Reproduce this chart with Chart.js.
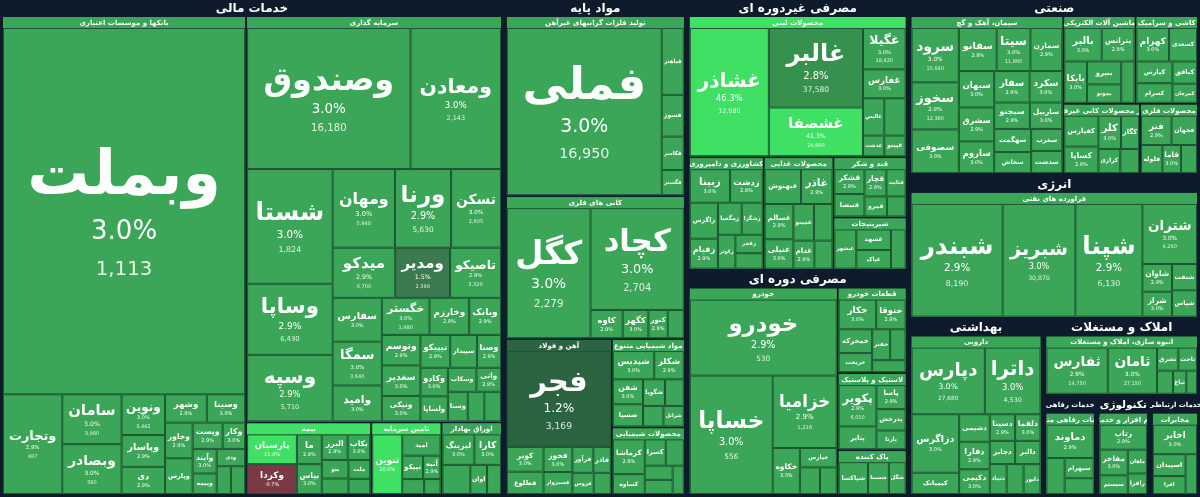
<!DOCTYPE html>
<html>
<head>
<meta charset="utf-8">
<script src="https://cdn.jsdelivr.net/npm/chart.js@4"></script>
<style>
  html, body { margin: 0; padding: 0; background: #0e1b2c; }
  #wrap { width: 1200px; height: 497px; }
</style>
</head>
<body>
<div id="wrap"><canvas id="map"></canvas></div>
<script>
// Sectors and industry groups
const sectorNames = ['خدمات مالی', 'مواد پایه', 'مصرفی غیردوره ای', 'مصرفی دوره ای', 'صنعتی', 'انرژی',
  'بهداشتی', 'املاک و مستغلات', 'خدمات رفاهی', 'خدمات ارتباطی', 'تکنولوژی'];

const groupNames = ['بانکها و موسسات اعتباری', 'سرمایه گذاری', 'بیمه', 'تامین سرمایه', 'اوراق بهادار',
  'تولید فلزات گرانبهای غیرآهن', 'کانی های فلزی', 'آهن و فولاد', 'مواد شیمیایی متنوع', 'محصولات شیمیایی',
  'محصولات لبنی', 'کشاورزی و دامپروری', 'محصولات غذایی', 'شیرینیجات', 'قند و شکر',
  'خودرو', 'لاستیک و پلاستیک', 'قطعات خودرو', 'پاک کننده',
  'سیمان، آهک و گچ', 'ماشین آلات الکتریکی', 'کاشی و سرامیک', 'محصولات فلزی', 'سایر محصولات کانی غیرفلزی',
  'فراورده های نفتی', 'دارویی', 'انبوه سازی، املاک و مستغلات', 'خدمات رفاهی متنوع', 'مخابرات', 'نرم افزار و خدمات'];
const groupSector = [0, 0, 0, 0, 0, 1, 1, 1, 1, 1, 2, 2, 2, 2, 2, 3, 3, 3, 3, 4, 4, 4, 4, 4, 5, 6, 7, 8, 9, 10];

// Stocks, one row per group
const stockNames = [
  ['وبملت', 'وتجارت', 'سامان', 'وبصادر', 'ونوین', 'وپاسار', 'دی', 'وشهر', 'وسینا', 'وخاور', 'وپارس', 'وپست', 'وکار', 'وآیند', 'وبیمه', 'ودی', 'وحکمت', 'وملل'],
  ['وصندوق', 'ومعادن', 'شستا', 'وساپا', 'وسپه', 'ومهان', 'ورنا', 'تسکن', 'میدکو', 'ومدیر', 'تاصیکو', 'سفارس', 'سمگا', 'وامید', 'خگستر', 'وخارزم', 'وبانک', 'وتوسم', 'سغدیر', 'ونیکی', 'تیپیکو', 'سپیدار', 'وصنا', 'وکادو', 'ولساپا', 'وسکاب', 'واتی', 'وسنا', 'ثنوسا', 'وآفری'],
  ['پارسیان', 'وکردا', 'ما', 'بپاس', 'البرز', 'بکاب', 'بنو', 'وتعاون', 'ملت', 'بپردیس'],
  ['تنوین', 'امید', 'تپیکو', 'آتیه', 'نوین', 'تسه'],
  ['لیزینگ', 'کارا', 'فرابورس', 'اوان', 'ولتجار'],
  ['فملی', 'فباهنر', 'فسوژ', 'فکاسر', 'فگستر'],
  ['کگل', 'کچاد', 'کاوه', 'کگهر', 'کنور', 'کشرق'],
  ['فجر', 'کویر', 'فطلوع', 'فخوز', 'فسبزوار', 'فرآور', 'فاذر', 'فروس', 'فنوال'],
  ['شپدیس', 'شکلر', 'شفن', 'شسپا', 'شگویا', 'شبصیر', 'شصدف', 'شرانل'],
  ['کرماشا', 'کساوه', 'کسرا', 'کفرآور', 'کلوند', 'کپشیر', 'کهمدا'],
  ['غشاذر', 'غالبر', 'غشصفا', 'غگیلا', 'غفارس', 'غالیس', 'غگلستا', 'غدشت', 'غپینو'],
  ['زبینا', 'زدشت', 'زاگرس', 'زقیام', 'زمگسا', 'زشگزا', 'زکوثر', 'زفجر', 'زملارد'],
  ['غبهنوش', 'غاذر', 'غسالم', 'غنیلی', 'غمینو', 'غنوش', 'غدام', 'غگرجی'],
  ['غبشهر', 'غشهد', 'غپاک', 'غشان'],
  ['قشکر', 'قنیشا', 'قچار', 'قثابت', 'قمرو', 'قزوین'],
  ['خودرو', 'خساپا', 'خزامیا', 'خکاوه', 'خپارس', 'خموتور', 'خکرمان'],
  ['پکویر', 'پتایر', 'پاسا', 'پدرخش', 'پارتا'],
  ['خکار', 'ختوقا', 'خمحرکه', 'خریخت', 'خفنر', 'خاذین', 'خچرخش'],
  ['شپاکسا', 'شسینا', 'شگل'],
  ['سرود', 'سخوز', 'سصوفی', 'سفانو', 'سیتا', 'سمازن', 'سبهان', 'سشرق', 'ساروم', 'سفار', 'سکرد', 'سبجنو', 'ساربیل', 'سهگمت', 'سخاش', 'سغرب', 'سدشت'],
  ['بالبر', 'بترانس', 'بایکا', 'بنیرو', 'بموتو', 'بپیوند'],
  ['کهرام', 'کسعدی', 'کپارس', 'کسرام', 'کبافق', 'کمرجان'],
  ['فنر', 'فجهان', 'فلوله', 'فاما', 'فسازان'],
  ['کفپارس', 'کساپا', 'کلر', 'کگاز', 'کرازی', 'کیسون'],
  ['شبندر', 'شبریز', 'شپنا', 'شتران', 'شاوان', 'شراز', 'شنفت', 'شپاس'],
  ['دپارس', 'داترا', 'دزاگرس', 'کیمیاتک', 'دشیمی', 'دفارا', 'دکیمی', 'دسینا', 'دلقما', 'دجابر', 'دالبر', 'دتماد', 'دسبحا', 'دابور'],
  ['ثفارس', 'ثامان', 'ثشرق', 'ثاخت', 'ثعمرا', 'ثباغ', 'ثنظام'],
  ['دماوند', 'بهپرور', 'سبهرام', 'گردش'],
  ['اخابر', 'اسپیدان', 'افرا', 'همراه'],
  ['رتاپ', 'مفاخر', 'سیستم', 'ماهان', 'رافزا']
];
const stockCaps = [
  [900, 60, 30, 30, 18, 14, 12, 12, 11, 10, 10, 8, 6, 6, 5, 5, 4, 4],
  [235, 130, 100, 62, 58, 50, 45, 40, 32, 28, 26, 22, 22, 18, 18, 15, 12, 12, 12, 10, 10, 9, 8, 8, 7, 7, 6, 6, 5, 5],
  [18, 18, 9, 9, 8, 7, 6, 5, 5, 4],
  [22, 10, 6, 5, 4, 3],
  [12, 10, 10, 6, 5],
  [280, 16, 10, 8, 6],
  [120, 105, 10, 8, 6, 5],
  [110, 10, 9, 8, 7, 6, 5, 5, 4],
  [14, 10, 9, 8, 7, 6, 5, 5],
  [14, 8, 7, 6, 5, 5, 4],
  [115, 85, 52, 20, 14, 9, 9, 5, 5],
  [16, 13, 12, 10, 9, 8, 7, 6, 5],
  [15, 13, 12, 10, 9, 8, 7, 6],
  [12, 10, 9, 8],
  [10, 9, 8, 7, 6, 5],
  [125, 110, 52, 14, 8, 6, 5],
  [20, 11, 9, 8, 7],
  [14, 11, 10, 8, 7, 6, 5],
  [14, 10, 8],
  [30, 26, 24, 19, 17, 16, 15, 14, 13, 13, 12, 11, 10, 10, 9, 8, 8],
  [16, 14, 12, 10, 8, 7],
  [14, 12, 10, 9, 7, 6],
  [12, 10, 8, 7, 6],
  [14, 12, 10, 8, 7, 6],
  [125, 100, 92, 40, 10, 9, 8, 8],
  [58, 44, 33, 12, 10, 10, 9, 8, 8, 7, 7, 6, 6, 6],
  [46, 37, 8, 7, 6, 5, 4],
  [24, 10, 9, 7],
  [20, 11, 9, 7],
  [18, 11, 8, 7, 6]
];
const stockChanges = [
  [3.0, 2.9, 3.0, 3.0, 3.0, 2.9, 2.9, 2.9, 3.0, 2.9, 2.9, 2.9, 3.0, 3.0, 2.9, 3.0, 2.9, 3.0],
  [3.0, 3.0, 3.0, 2.9, 2.9, 3.0, 2.9, 3.0, 2.9, 1.5, 2.9, 3.0, 3.0, 3.0, 3.0, 2.9, 2.9, 2.9, 3.0, 3.0, 2.9, 3.0, 2.9, 3.0, 2.9, 3.0, 2.9, 3.0, 2.9, 3.0],
  [11.4, -0.7, 2.9, 3.0, 2.9, 3.0, 2.9, 3.0, 2.9, 3.0],
  [10.0, 3.0, 3.0, 2.9, 3.0, 2.9],
  [3.0, 3.0, 2.9, 3.0, 2.9],
  [3.0, 2.9, 3.0, 2.9, 3.0],
  [3.0, 3.0, 2.9, 3.0, 2.9, 3.0],
  [1.2, 3.0, 2.9, 3.0, 2.9, 3.0, 2.9, 3.0, 2.9],
  [3.0, 2.9, 3.0, 2.9, 3.0, 2.9, 3.0, 2.9],
  [2.9, 3.0, 2.9, 3.0, 2.9, 3.0, 2.9],
  [46.3, 2.8, 41.3, 3.0, 3.0, 2.9, 2.9, 3.0, 2.9],
  [3.0, 2.9, 3.0, 2.9, 3.0, 2.9, 3.0, 2.9, 3.0],
  [3.0, 2.9, 2.9, 3.0, 2.9, 3.0, 2.9, 3.0],
  [3.0, 2.9, 3.0, 2.9],
  [2.9, 3.0, 2.9, 3.0, 2.9, 3.0],
  [2.9, 3.0, 2.9, 3.0, 2.9, 3.0, 2.9],
  [2.9, 3.0, 2.9, 3.0, 2.9],
  [3.0, 2.9, 3.0, 2.9, 3.0, 2.9, 3.0],
  [3.0, 2.9, 3.0],
  [3.0, 2.9, 3.0, 2.9, 3.0, 2.9, 3.0, 2.9, 3.0, 2.9, 3.0, 2.9, 3.0, 2.9, 3.0, 2.9, 3.0],
  [3.0, 2.9, 3.0, 2.9, 3.0, 2.9],
  [3.0, 2.9, 3.0, 2.9, 3.0, 2.9],
  [2.9, 3.0, 2.9, 3.0, 2.9],
  [3.0, 2.9, 3.0, 2.9, 3.0, 2.9],
  [2.9, 3.0, 2.9, 3.0, 2.9, 3.0, 2.9, 3.0],
  [3.0, 3.0, 3.0, 2.9, 3.0, 2.9, 3.0, 2.9, 3.0, 2.9, 3.0, 2.9, 3.0, 2.9],
  [2.9, 3.0, 2.9, 3.0, 2.9, 3.0, 2.9],
  [2.9, 3.0, 2.9, 3.0],
  [3.0, 2.9, 3.0, 2.9],
  [2.9, 3.0, 2.9, 3.0, 2.9]
];
const stockPrices = [
  [1113, 487, 3980, 580, 3442, 2950, 1830, 1730, 6190, 1720, 2120, 4350, 1560, 3440, 2210, 1990, 1870, 2510],
  [16180, 2143, 1824, 6430, 5710, 5940, 5630, 2605, 6700, 2399, 3320, 2150, 3640, 4120, 1980, 2210, 1760, 3050, 2870, 4440, 2630, 1540, 1890, 2760, 3310, 1450, 2070, 1620, 3380, 2990],
  [3220, 5847, 1650, 2130, 1870, 2460, 1510, 2280, 1940, 1720],
  [3690, 2410, 1980, 2550, 1870, 2260],
  [2150, 1980, 7530, 2380, 1660],
  [16950, 5210, 7440, 3180, 2690],
  [2279, 2704, 4390, 6120, 3570, 2480],
  [3169, 1450, 5260, 3930, 2780, 4120, 2670, 3340, 2190],
  [5830, 7420, 3360, 4710, 2940, 3590, 2230, 4880],
  [6130, 3270, 4190, 2580, 3860, 2310, 1970],
  [12980, 37580, 24860, 18420, 9870, 7660, 8810, 5430, 6290],
  [12450, 9380, 11270, 7640, 8930, 6180, 5520, 7310, 4870],
  [8760, 6550, 9120, 5480, 7330, 4260, 6190, 3870],
  [5240, 6930, 4410, 3780],
  [7120, 5840, 6630, 4970, 5210, 3980],
  [530, 556, 1216, 3880, 2270, 1950, 2640],
  [6010, 4820, 3570, 2930, 5160],
  [2290, 3140, 1870, 2560, 3320, 1940, 2780],
  [8140, 5230, 4660],
  [15640, 12380, 18290, 9740, 11860, 13420, 10550, 8890, 9630, 12170, 7420, 8350, 6980, 9210, 5780, 7640, 6330],
  [4580, 6210, 3860, 2940, 3370, 2650],
  [3410, 2870, 4150, 2260, 2980, 1960],
  [5320, 3870, 4490, 2760, 3140],
  [6520, 4730, 3980, 5160, 2870, 3340],
  [8190, 30870, 6130, 4260, 7840, 5310, 6640, 4170],
  [27680, 4530, 18940, 9620, 12370, 8460, 7210, 10880, 6750, 9130, 7780, 5920, 8340, 6470],
  [14750, 27150, 3320, 2870, 2490, 3760, 2150],
  [9830, 6470, 5210, 4380],
  [2360, 4870, 3650, 5120],
  [12340, 8650, 6270, 5480, 4930]
];

const W = 1200, H = 497;
const BG = '#0e1b2c';
// which page column each sector is laid out in
const sectorColumn = [0, 1, 2, 2, 3, 3, 3, 3, 3, 3, 3];

function colorFor(c) {
  if (c >= 10) return '#3fe064';
  if (c < 0) return '#7a3944';
  if (c < 1.3) return '#2c6441';
  if (c < 2) return '#3a7a4e';
  if (c < 2.85) return '#36914f';
  return '#3ba657';
}

// squarified treemap, returns rects in the order of vals
function squarify(vals, x, y, w, h) {
  const order = vals.map((v, i) => i).sort((a, b) => vals[b] - vals[a]);
  const total = vals.reduce((s, v) => s + v, 0);
  const scale = (w * h) / total;
  const areas = order.map(i => vals[i] * scale);
  const out = new Array(vals.length);
  const worst = (row, side) => {
    const s = row.reduce((a, b) => a + b, 0);
    const mx = Math.max(...row), mn = Math.min(...row);
    return Math.max(side * side * mx / (s * s), (s * s) / (side * side * mn));
  };
  let i = 0;
  while (i < areas.length) {
    const side = Math.min(w, h);
    const row = [areas[i]];
    let j = i + 1;
    while (j < areas.length && worst([...row, areas[j]], side) <= worst(row, side)) {
      row.push(areas[j]);
      j++;
    }
    const s = row.reduce((a, b) => a + b, 0);
    if (w >= h) {
      const cw = s / h;
      let yy = y;
      row.forEach((a, k) => { const rh = a / cw; out[order[i + k]] = { x, y: yy, w: cw, h: rh }; yy += rh; });
      x += cw; w -= cw;
    } else {
      const rh = s / w;
      let xx = x;
      row.forEach((a, k) => { const rw = a / rh; out[order[i + k]] = { x: xx, y, w: rw, h: rh }; xx += rw; });
      y += rh; h -= rh;
    }
    i = j;
  }
  return out;
}

const sum = a => a.reduce((s, v) => s + v, 0);
const FONT = '"DejaVu Sans", sans-serif';

function layoutSectors(totals) {
  const cols = [...new Set(sectorColumn)];
  const colTotals = cols.map(c => sum(totals.filter((_, s) => sectorColumn[s] === c)));
  const all = sum(colTotals);
  const rects = new Array(totals.length);
  let x = 0;
  cols.forEach((c, k) => {
    const w = W * colTotals[k] / all;
    const idx = sectorColumn.map((col, s) => col === c ? s : -1).filter(s => s >= 0);
    const rr = squarify(idx.map(s => totals[s]), x, 0, w, H);
    idx.forEach((s, n) => { rects[s] = rr[n]; });
    x += w;
  });
  return rects;
}

const treemapPlugin = {
  id: 'treemap',
  afterDraw(chart) {
    const ctx = chart.ctx;
    const xs = chart.scales.x, ys = chart.scales.y;
    const px = v => xs.getPixelForValue(v), py = v => ys.getPixelForValue(v);
    const box = r => ({ x: px(r.x), y: py(r.y), w: px(r.x + r.w) - px(r.x), h: py(r.y + r.h) - py(r.y) });

    ctx.save();
    ctx.fillStyle = BG;
    ctx.fillRect(0, 0, chart.width, chart.height);

    const groupTotals = stockCaps.map(sum);
    const sectorTotals = sectorNames.map((_, s) => sum(groupTotals.filter((_, g) => groupSector[g] === s)));
    const sectorRects = layoutSectors(sectorTotals);

    sectorRects.forEach((sr, s) => {
      const r = box(sr);
      const hdr = r.h > 30 && r.w > 30 ? 16 : 0;
      if (hdr) {
        ctx.save();
        ctx.beginPath(); ctx.rect(r.x, r.y, r.w, hdr); ctx.clip();
        ctx.fillStyle = '#ffffff';
        ctx.font = 'bold 12px ' + FONT;
        const hw = ctx.measureText(sectorNames[s]).width;
        if (hw > r.w - 6) ctx.font = 'bold ' + Math.max(7, 12 * (r.w - 6) / hw).toFixed(1) + 'px ' + FONT;
        ctx.textAlign = 'center';
        ctx.textBaseline = 'middle';
        ctx.fillText(sectorNames[s], r.x + r.w / 2, r.y + 8.5);
        ctx.restore();
      }
      const gIdx = groupSector.map((sec, g) => sec === s ? g : -1).filter(g => g >= 0);
      const inner = { x: sr.x + 2, y: sr.y + hdr, w: sr.w - 4, h: sr.h - hdr - 2 };
      const gRects = squarify(gIdx.map(g => groupTotals[g]), inner.x, inner.y, inner.w, inner.h);

      gRects.forEach((gr, k) => {
        const g = gIdx[k];
        const gb = box({ x: gr.x + 1, y: gr.y + 1, w: gr.w - 2, h: gr.h - 2 });
        const mainColor = colorFor(stockChanges[g][0]);
        ctx.fillStyle = '#3ba657';
        ctx.fillRect(gb.x, gb.y, gb.w, gb.h);
        const ghdr = gb.h > 30 && gb.w > 30 ? 11 : 0;
        if (ghdr) {
          ctx.save();
          ctx.beginPath(); ctx.rect(gb.x, gb.y, gb.w, ghdr); ctx.clip();
          ctx.fillStyle = mainColor;
          ctx.fillRect(gb.x, gb.y, gb.w, ghdr);
          ctx.fillStyle = '#ffffff';
          ctx.font = 'bold 7px ' + FONT;
          ctx.textAlign = 'center'; ctx.textBaseline = 'middle';
          ctx.fillText(groupNames[g], gb.x + gb.w / 2, gb.y + ghdr / 2 + 0.5);
          ctx.restore();
        }
        const sRects = squarify(stockCaps[g], gr.x + 1, gr.y + 1 + ghdr, gr.w - 2, gr.h - 2 - ghdr);
        sRects.forEach((rr, n) => {
          const c = box(rr);
          ctx.fillStyle = colorFor(stockChanges[g][n]);
          ctx.fillRect(c.x, c.y, c.w, c.h);
          ctx.strokeStyle = '#1e5533';
          ctx.lineWidth = 1;
          ctx.strokeRect(c.x + 0.5, c.y + 0.5, c.w - 1, c.h - 1);

          // labels
          const name = stockNames[g][n];
          ctx.font = 'bold 10px ' + FONT;
          const tw = ctx.measureText(name).width;
          let fs = Math.min(10 * (c.w * 0.8) / tw, c.h * 0.3, 64);
          if (fs < 5) return;
          ctx.save();
          ctx.beginPath(); ctx.rect(c.x, c.y, c.w, c.h); ctx.clip();
          ctx.fillStyle = '#ffffff';
          ctx.textAlign = 'center'; ctx.textBaseline = 'middle';
          const cx = c.x + c.w / 2, cy = c.y + c.h / 2;
          const showPct = fs >= 7, showPrice = fs >= 11;
          const pfs = Math.max(fs * 0.42, 5), qfs = Math.max(fs * 0.32, 5);
          const blockH = fs + (showPct ? pfs * 1.4 : 0) + (showPrice ? qfs * 1.5 : 0);
          let yy = cy - blockH / 2 + fs / 2;
          ctx.font = 'bold ' + fs.toFixed(1) + 'px ' + FONT;
          ctx.fillText(name, cx, yy);
          if (showPct) {
            yy += fs / 2 + pfs * 0.9;
            ctx.font = pfs.toFixed(1) + 'px ' + FONT;
            ctx.fillText(stockChanges[g][n].toFixed(1) + '%', cx, yy);
          }
          if (showPrice) {
            yy += pfs * 0.6 + qfs * 1.1;
            ctx.globalAlpha = 0.85;
            ctx.font = qfs.toFixed(1) + 'px ' + FONT;
            ctx.fillText(stockPrices[g][n].toLocaleString('en-US'), cx, yy);
          }
          ctx.restore();
        });
      });
    });
    ctx.restore();
  }
};

new Chart(document.getElementById('map'), {
  type: 'scatter',
  data: { datasets: [{ data: [] }] },
  options: {
    responsive: true,
    maintainAspectRatio: false,
    animation: false,
    layout: { padding: 0 },
    plugins: { legend: { display: false }, tooltip: { enabled: false } },
    scales: {
      x: { type: 'linear', min: 0, max: W, display: false },
      y: { type: 'linear', min: 0, max: H, reverse: true, display: false }
    }
  },
  plugins: [treemapPlugin]
});
</script>
</body>
</html>
